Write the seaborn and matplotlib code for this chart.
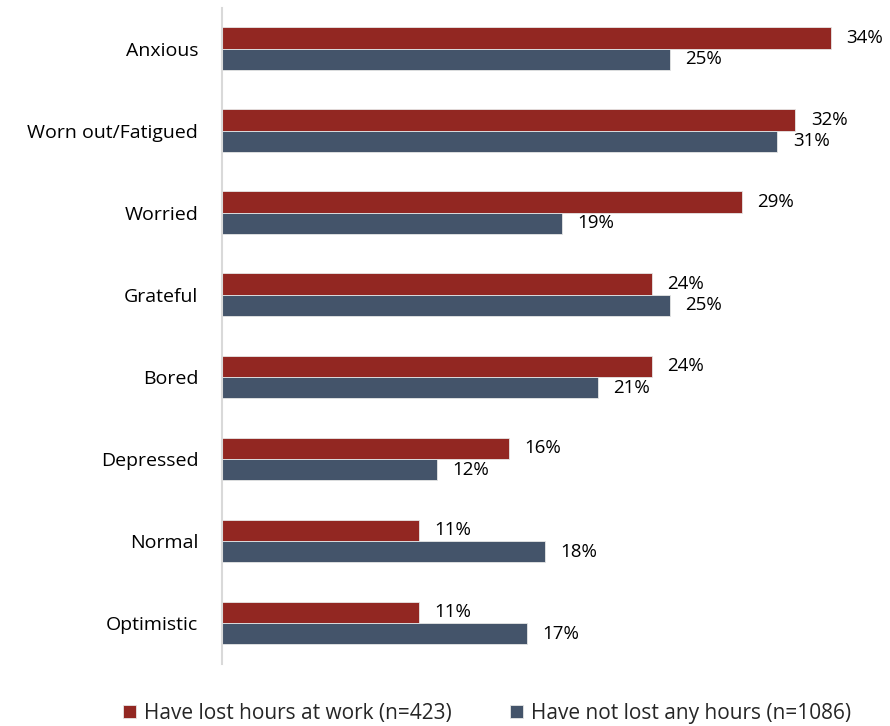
import pandas as pd
import matplotlib.pyplot as plt
import seaborn as sns

# Data
categories = ['Anxious', 'Worn out/Fatigued', 'Worried', 'Grateful', 'Bored',
              'Depressed', 'Normal', 'Optimistic']
lost_hours = [34, 32, 29, 24, 24, 16, 11, 11]
not_lost = [25, 31, 19, 25, 21, 12, 18, 17]
series_names = ['Have lost hours at work (n=423)', 'Have not lost any hours (n=1086)']
colors = ['#922722', '#44546A']

df = pd.DataFrame({
    'Emotion': categories * 2,
    'Value': lost_hours + not_lost,
    'Group': [series_names[0]] * len(categories) + [series_names[1]] * len(categories),
})

sns.set_style('white')
plt.rcParams['font.family'] = ['Open Sans', 'DejaVu Sans']

fig = plt.figure(figsize=(8.9, 7.26), dpi=100)
ax = fig.add_axes([0.2494, 0.0854, 0.745, 0.904])

sns.barplot(data=df, y='Emotion', x='Value', hue='Group', order=categories,
            hue_order=series_names, palette=colors, saturation=1, orient='h',
            width=0.52, gap=0, edgecolor='#e6e6e6', linewidth=0.6, ax=ax)

for cont in ax.containers:
    ax.bar_label(cont, labels=[f'{int(v)}%' for v in cont.datavalues],
                 padding=11, fontsize=13.5, color='black')

ax.set_xlim(0, 37)
ax.set_ylim(7.5, -0.5)
ax.set_xlabel('')
ax.set_ylabel('')
ax.set_xticks([])
ax.tick_params(axis='y', length=0, labelsize=14, pad=17, labelcolor='black')
for s in ['top', 'right', 'bottom']:
    ax.spines[s].set_visible(False)
ax.spines['left'].set_color('#d9d9d9')
ax.spines['left'].set_linewidth(1.5)

handles, labels = ax.get_legend_handles_labels()
ax.legend(handles, labels, loc='center', bbox_to_anchor=(0.40, -0.075),
          ncol=2, frameon=False, fontsize=15, handlelength=0.6, handleheight=0.6,
          columnspacing=2.8, handletextpad=0.4)

fig.savefig('out.png', dpi=100)
